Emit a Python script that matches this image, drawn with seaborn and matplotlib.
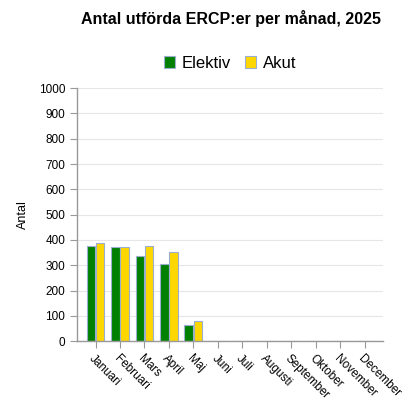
import seaborn as sns
import matplotlib.pyplot as plt
import pandas as pd

# data
months = ["Januari", "Februari", "Mars", "April", "Maj", "Juni", "Juli",
          "Augusti", "September", "Oktober", "November", "December"]
elektiv = [378, 372, 336, 306, 62, 0, 0, 0, 0, 0, 0, 0]
akut = [389, 372, 375, 353, 80, 0, 0, 0, 0, 0, 0, 0]

df = pd.DataFrame({
    "month": months * 2,
    "antal": elektiv + akut,
    "typ": ["Elektiv"] * len(months) + ["Akut"] * len(months),
})

sns.set_style("white")
plt.rcParams["font.family"] = ["Liberation Sans", "DejaVu Sans"]
plt.rcParams["text.color"] = "black"

fig = plt.figure(figsize=(4.16, 4.16), dpi=100)
ax = fig.add_axes([0.185, 0.18, 0.736, 0.608])

sns.barplot(data=df, x="month", y="antal", hue="typ",
            palette={"Elektiv": "#008000", "Akut": "#FFD700"}, saturation=1,
            width=0.76, gap=0.08, edgecolor="#9aaed0", linewidth=0.8,
            ax=ax, legend=True)

ax.set_ylim(0, 1000)
ax.set_yticks(range(0, 1001, 100))
ax.set_xlim(-0.76, 11.76)
ax.yaxis.grid(True, color="#e6e6e6", linewidth=0.8)
ax.set_axisbelow(True)
for s in ["top", "right"]:
    ax.spines[s].set_visible(False)
for s in ["left", "bottom"]:
    ax.spines[s].set_color("#999999")
    ax.spines[s].set_linewidth(1)
ax.tick_params(axis="both", length=5, color="#999999", labelsize=8.5,
               labelcolor="black", direction="out", bottom=True, left=True)
plt.setp(ax.get_xticklabels(), rotation=-45, ha="left", rotation_mode="anchor")
ax.set_xlabel("")
ax.set_ylabel("Antal", fontsize=9, labelpad=7, color="black")

leg = ax.legend(loc="lower center", bbox_to_anchor=(0.5, 1.01), ncol=2,
                frameon=False, fontsize=12, handlelength=0.7, handleheight=0.7,
                handletextpad=0.4, columnspacing=0.8)
for t in leg.get_texts():
    t.set_color("black")

fig.text(0.556, 0.955, "Antal utförda ERCP:er per månad, 2025",
         ha="center", va="center", fontsize=11.5, fontweight="bold",
         color="black")

fig.savefig("out.png", dpi=100)
